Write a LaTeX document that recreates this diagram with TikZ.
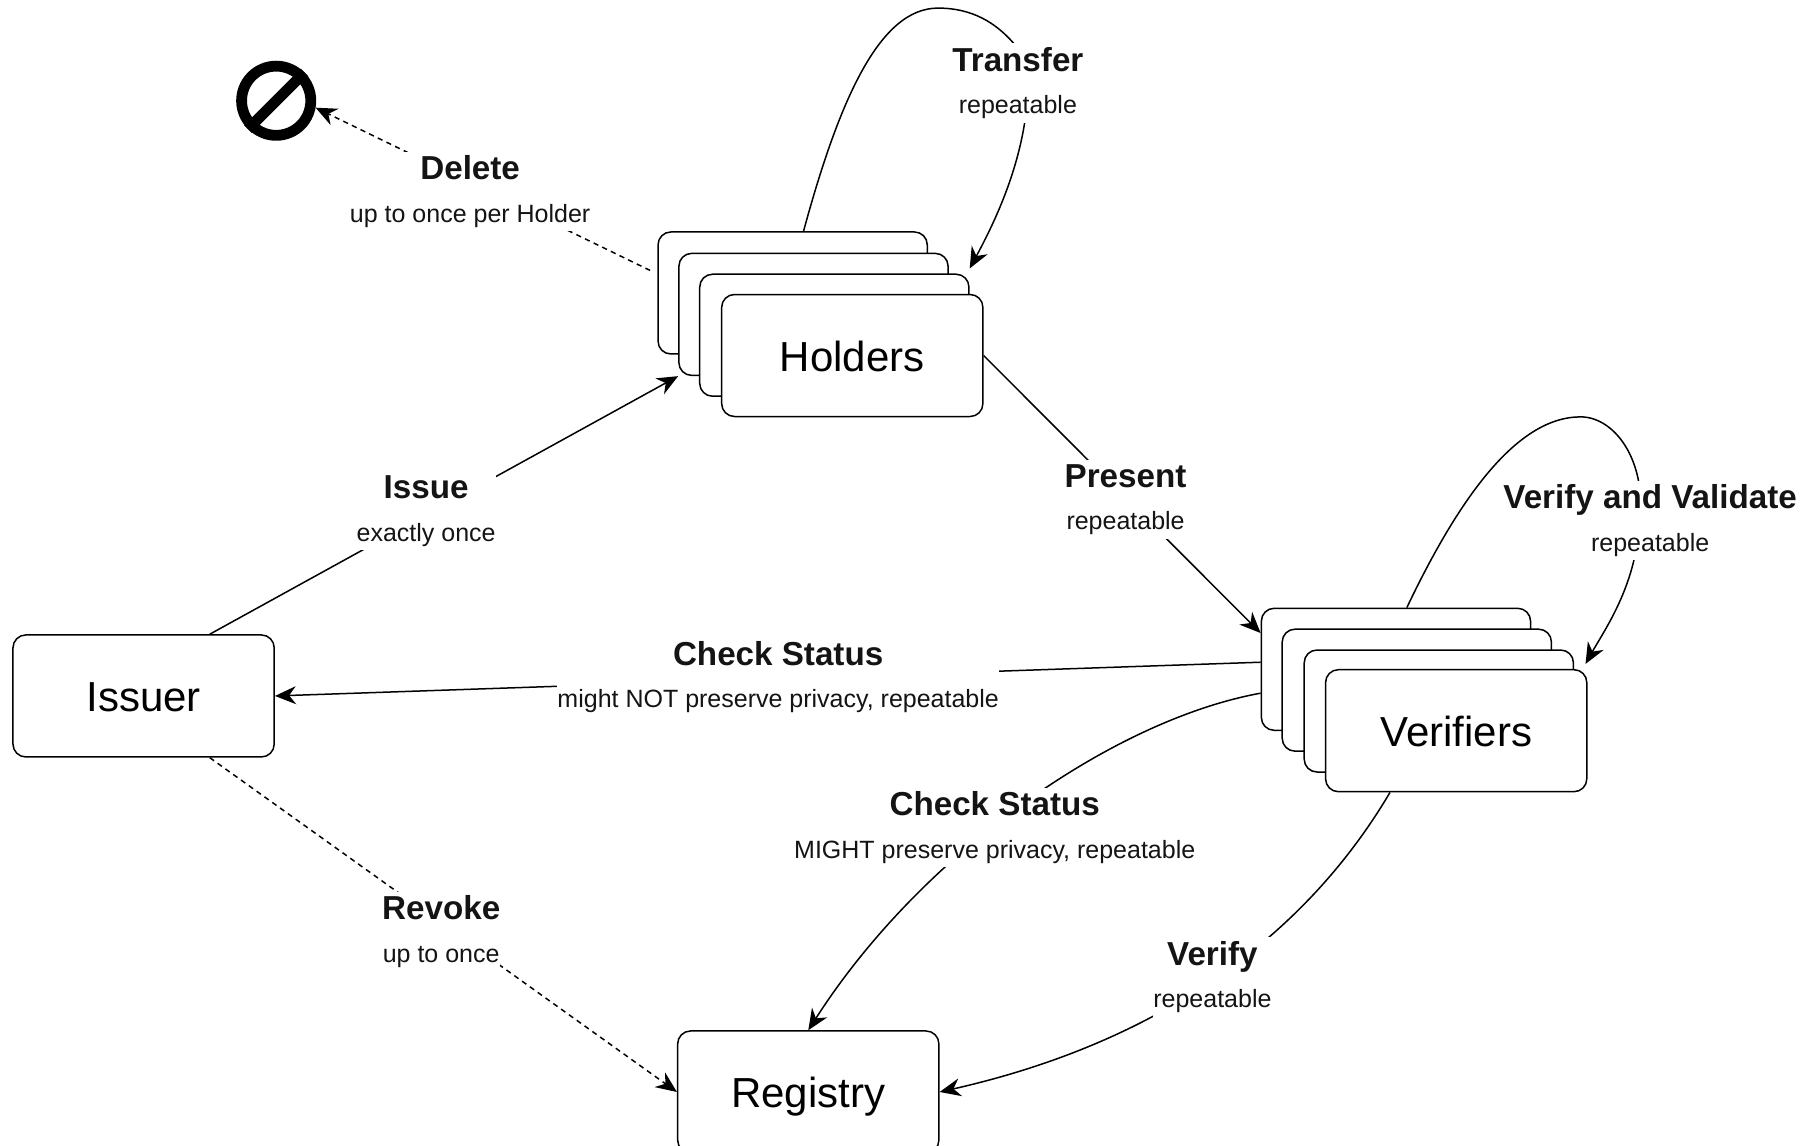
\documentclass[tikz,border=0pt]{standalone}
\usepackage{fontspec}
\setmainfont{Liberation Sans}
\usetikzlibrary{arrows.meta}

\newcommand{\steplabel}[2]{{\fontsize{16.6}{21.2}\selectfont\bfseries #1}\\#2}

\begin{document}
\begin{tikzpicture}[x=0.579pt, y=-0.579pt,
  font=\fontsize{21}{25}\selectfont,
  party/.style={
    draw,
    fill=white,
    rectangle,
    line width=0.75pt,
    minimum width=130.6pt,
    minimum height=61pt,
    text height=20pt,
    text depth=4.4pt,
    rounded corners=6.4pt
  },
  card/.style={party, minimum width=134.6pt},
  line/.style={-{Stealth[length=10.5pt, width=9pt]}, line width=0.75pt},
  dashline/.style={line, dash pattern=on 2.6pt off 2.2pt},
  note/.style={
    fill=white,
    align=center,
    inner xsep=0pt,
    inner ysep=2pt,
    text=black!92,
    font=\fontsize{12.5}{21.2}\selectfont
  }
  ]

\useasboundingbox (0,0) rectangle (1566.5,989.6);
\clip (0,0) rectangle (1566.5,989.6);

% Parties
\node[party] (issuer) at (124,601) {Issuer};
\node[party] (registry) at (698,943) {Registry};

% Holders stack
\node[card] (holdera) at (684.5,253) {};
\node[card] (holderb) at (702.5,271.5) {};
\node[card] (holderc) at (720.5,289.5) {};
\node[party] (holders) at (736,307) {Holders};

% Verifiers stack
\node[card] (verifiera) at (1205.5,578) {};
\node[card] (verifierb) at (1223.5,596) {};
\node[card] (verifierc) at (1242.5,614) {};
\node[party] (verifiers) at (1257.5,631) {Verifiers};

% Deleted symbol
\node[draw, circle, line width=5.4pt, minimum size=34.6pt] (deleted) at (238.5,87) {};
\draw[line width=5.4pt] (deleted.south west) -- (deleted.north east);

% Arrows
\draw[line] (issuer.43) -- (holderb.south west);
\draw[line] (holders.east) -- (verifiera.165);
\draw[line] (verifiera.177.8) -- (issuer.east);
\draw[line] (verifiera.190.5) .. controls (960,622) and (795,738) .. (registry.north);
\draw[line] (verifiers.-137) .. controls (1138,790) and (1024,895) .. (registry.east);
\draw[dashline] (issuer.-43) -- (registry.west);
\draw[dashline, shorten <=4pt] (holdera.172) -- (deleted.-10);
\draw[line] (holdera.80) .. controls (725,85) and (760,7) .. (810,7)
  .. controls (840,7) and (860,20) .. (875,37)
  .. controls (885,50) and (890,75) .. (885,105)
  .. controls (878,150) and (860,190) .. ([yshift=2.5pt]holderc.north east);
\draw[line] (verifiera.80) .. controls (1260,430) and (1310,360) .. (1365,360)
  .. controls (1395,360) and (1425,400) .. (1415,460)
  .. controls (1410,510) and (1385,545) .. ([xshift=-1pt, yshift=2.5pt]verifiers.north east);

% Labels on the arrows
\node[note] (issue) at (368,441.5) {\steplabel{Issue}{exactly once}};
\node[note] (present) at (972,431.5) {\steplabel{Present}{repeatable}};
\node[note] (transfer) at (879,71.5) {\steplabel{Transfer}{repeatable}};
\node[note] (delete) at (406,165.5) {\steplabel{Delete}{up to once per Holder}};
\node[note] (validate) at (1425,449.5) {\steplabel{Verify and Validate}{repeatable}};
\node[note] (statusissuer) at (672,584.5) {\steplabel{Check Status}{might NOT preserve privacy, repeatable}};
\node[note] (statusregistry) at (859,714.5) {\steplabel{Check Status}{MIGHT preserve privacy, repeatable}};
\node[note] (revoke) at (381,804.5) {\steplabel{Revoke}{up to once}};
\node[note] (verify) at (1047,843.5) {\steplabel{Verify}{repeatable}};

\end{tikzpicture}
\end{document}
